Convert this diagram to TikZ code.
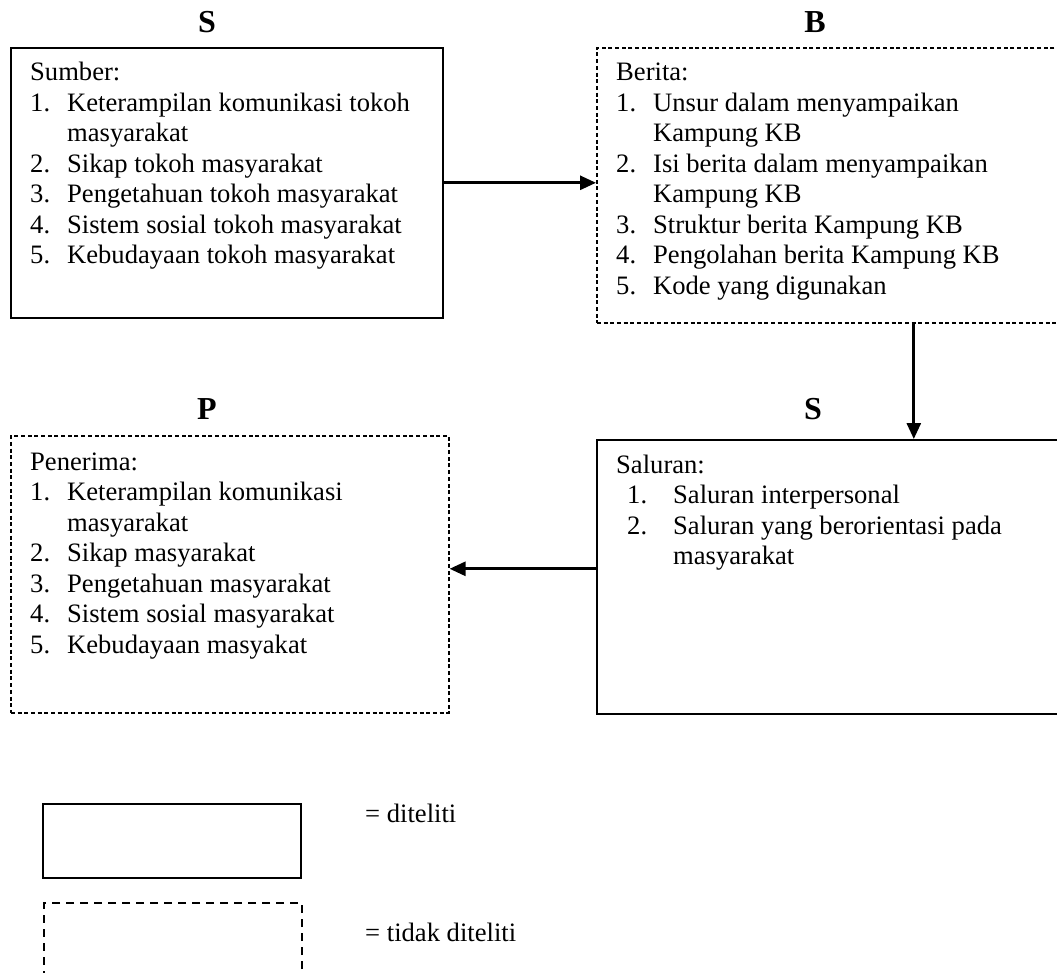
\documentclass[tikz,border=0pt]{standalone}
\usepackage{fontspec}
\setmainfont{Liberation Serif}
\usepackage{tikz}
\usetikzlibrary{arrows.meta, positioning, calc}

\newcommand{\nm}[2][37pt]{\makebox[#1][l]{#2}}

\begin{document}
\begin{tikzpicture}[x=1pt, y=-1pt, >={Triangle[length=16pt,width=14pt]},
        solidbox/.style={draw, line width=1.6pt, inner sep=0pt, anchor=north west},
        dashbox/.style={solidbox, dash pattern=on 4pt off 2.7pt},
        head/.style={font=\fontsize{32}{36}\selectfont\bfseries, inner sep=0pt, anchor=base},
        items/.style={font=\fontsize{26.6}{30.5}\selectfont, inner sep=0pt, anchor=base west},
        arrow/.style={->, line width=2.8pt}]
        \useasboundingbox (0,0) rectangle (1057,973);

        \node[solidbox, minimum width=432pt, minimum height=270pt] (sumber) at (10,47) {};
        \node[dashbox, minimum width=634pt, minimum height=275pt] (berita) at (596,47) {};
        \node[dashbox, minimum width=438pt, minimum height=277pt] (penerima) at (10,435) {};
        \node[solidbox, minimum width=634pt, minimum height=274pt] (saluran) at (596,439) {};

        \node[head] (tS) at (207,33) {S};
        \node[head] (tB) at (815,33) {B};
        \node[head] (tP) at (207,419) {P};
        \node[head] (tS2) at (813,419) {S};

        \node[items] (lsumber) at ($(sumber.north west)+(20,34)$) {\begin{tabular}[t]{@{}l@{}}
            Sumber:\\
            \nm{1.}Keterampilan komunikasi tokoh\\
            \nm{}masyarakat\\
            \nm{2.}Sikap tokoh masyarakat\\
            \nm{3.}Pengetahuan tokoh masyarakat\\
            \nm{4.}Sistem sosial tokoh masyarakat\\
            \nm{5.}Kebudayaan tokoh masyarakat
        \end{tabular}};
        \node[items] (lberita) at ($(berita.north west)+(20,34)$) {\begin{tabular}[t]{@{}l@{}}
            Berita:\\
            \nm{1.}Unsur dalam menyampaikan\\
            \nm{}Kampung KB\\
            \nm{2.}Isi berita dalam menyampaikan\\
            \nm{}Kampung KB\\
            \nm{3.}Struktur berita Kampung KB\\
            \nm{4.}Pengolahan berita Kampung KB\\
            \nm{5.}Kode yang digunakan
        \end{tabular}};
        \node[items] (lpenerima) at ($(penerima.north west)+(20,35)$) {\begin{tabular}[t]{@{}l@{}}
            Penerima:\\
            \nm{1.}Keterampilan komunikasi\\
            \nm{}masyarakat\\
            \nm{2.}Sikap masyarakat\\
            \nm{3.}Pengetahuan masyarakat\\
            \nm{4.}Sistem sosial masyarakat\\
            \nm{5.}Kebudayaan masyakat
        \end{tabular}};
        \node[items] (lsaluran) at ($(saluran.north west)+(20,34)$) {\begin{tabular}[t]{@{}l@{}}
            Saluran:\\
            \hspace*{11pt}\nm[46pt]{1.}Saluran interpersonal\\
            \hspace*{11pt}\nm[46pt]{2.}Saluran yang berorientasi pada\\
            \hspace*{11pt}\nm[46pt]{}masyarakat
        \end{tabular}};

        % legenda
        \node[solidbox, line width=2.2pt, minimum width=258pt, minimum height=74pt] (diteliti) at (42,803) {};
        \node[solidbox, line width=2.4pt, dash pattern=on 8pt off 6pt, minimum width=258pt, minimum height=74pt] (tidak) at (43,902) {};
        \node[items] (lditeliti) at (365,822) {= diteliti};
        \node[items] (ltidak) at (365,941) {= tidak diteliti};

        \draw[arrow] (sumber.east) -- (sumber.east -| berita.west);
        \draw[arrow] (berita) -- (saluran);
        \draw[arrow] ([yshift=8pt]saluran.west) -- ([yshift=8pt]saluran.west -| penerima.east);
    \end{tikzpicture}
\end{document}
